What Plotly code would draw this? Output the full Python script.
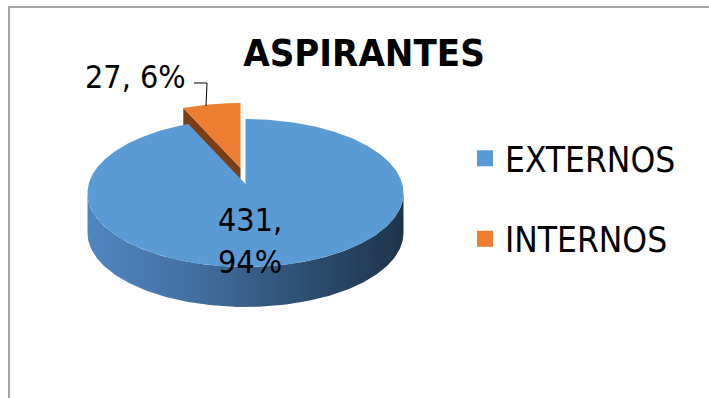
import numpy as np
import plotly.graph_objects as go

# Applicants split by origin
labels = ["EXTERNOS", "INTERNOS"]
values = [431, 27]
title_text = "ASPIRANTES"

W, H = 709, 398
FONT = "DejaVu Sans Condensed, Liberation Sans, sans-serif"

# 3D pie geometry (pixel space)
CX, CY = 245.5, 193.0       # centre of the top ellipse
RX, RY = 158.0, 74.0        # radii of the top ellipse
APEX_DY = -9.0              # perspective: projected centre sits a little behind
DEPTH = 40.0                # thickness of the disc
EXPLODE = (-5.0, -16.0)     # offset of the pulled-out slice

TOP_COLORS = ["#5B9BD5", "#ED7D31"]
SIDE_COLORS = ["#3E6C98", "#7A3E12"]

total = float(sum(values))
fracs = [v / total for v in values]

# slice angles: start at 12 o'clock, clockwise
bounds = []
start = 90.0
for f in fracs:
    end = start - 360.0 * f
    bounds.append((start, end))
    start = end


def rim(t_deg, dx=0.0, dy=0.0):
    t = np.radians(t_deg)
    return CX + dx + RX * np.cos(t), CY + dy - RY * np.sin(t)


def arc(t0, t1, dx=0.0, dy=0.0, n=200):
    ts = np.linspace(t0, t1, n)
    xs, ys = rim(ts, dx, dy)
    return list(xs), list(ys)


fig = go.Figure()

# --- pulled-out slice (INTERNOS) ---
o0, o1 = bounds[1]
odx, ody = EXPLODE
ax_o, ay_o = CX + odx, CY + APEX_DY + ody
rx_o, ry_o = rim(o0, odx, ody)
# radial cut face seen from the front-left
fig.add_trace(go.Scatter(
    x=[ax_o, rx_o, rx_o, ax_o, ax_o],
    y=[ay_o, ry_o, ry_o + DEPTH, ay_o + DEPTH, ay_o],
    mode="lines", fill="toself", fillcolor=SIDE_COLORS[1],
    line=dict(width=0), hoverinfo="skip", showlegend=False))
xs, ys = arc(o0, o1, odx, ody)
fig.add_trace(go.Scatter(
    x=[ax_o] + xs + [ax_o], y=[ay_o] + ys + [ay_o],
    mode="lines", fill="toself", fillcolor=TOP_COLORS[1],
    line=dict(width=0), hoverinfo="skip", showlegend=False))

# --- main slice (EXTERNOS) ---
b0, b1 = bounds[0]
# front wall, lower half of the rim
xs_t, ys_t = arc(180, 360)
xs_b = xs_t[::-1]
ys_b = [y + DEPTH for y in ys_t[::-1]]
fig.add_trace(go.Scatter(
    x=xs_t + xs_b + [xs_t[0]], y=ys_t + ys_b + [ys_t[0]],
    mode="lines", fill="toself",
    fillgradient=dict(type="horizontal", colorscale=[
        [0.0, "rgb(80,133,192)"], [0.3, "rgb(68,114,166)"],
        [0.65, "rgb(48,82,117)"], [1.0, "rgb(30,52,75)"]]),
    line=dict(width=0), hoverinfo="skip", showlegend=False))
ax_b, ay_b = CX, CY + APEX_DY
xs, ys = arc(b0, b1, n=600)
fig.add_trace(go.Scatter(
    x=[ax_b] + xs + [ax_b], y=[ay_b] + ys + [ay_b],
    mode="lines", fill="toself", fillcolor=TOP_COLORS[0],
    line=dict(width=0), hoverinfo="skip", showlegend=False))

# legend entries
for lab, col in zip(labels, TOP_COLORS):
    fig.add_trace(go.Scatter(
        x=[None], y=[None], mode="markers", name=lab, legendgroup=lab,
        marker=dict(symbol="square", size=19, color=col)))

# data labels
pct = [round(100 * f) for f in fracs]
fig.add_annotation(x=250, y=241, xref="x", yref="y",
                   text=f"{values[0]},<br>{pct[0]}%", showarrow=False,
                   font=dict(family=FONT, size=32, color="black"))
fig.add_annotation(x=188, y=77, xref="x", yref="y", xanchor="right",
                   text=f"{values[1]}, {pct[1]}%", showarrow=False,
                   font=dict(family=FONT, size=32, color="black"))
# leader line from the label to the pulled slice
mid_t = (o0 + o1) / 2.0
lx, ly = rim(mid_t + 2, odx, ody)
fig.add_trace(go.Scatter(
    x=[194, 207, lx], y=[83, 83, ly + 1], mode="lines",
    line=dict(color="black", width=1), hoverinfo="skip", showlegend=False))

fig.update_layout(
    width=W, height=H,
    margin=dict(l=0, r=0, t=0, b=0),
    paper_bgcolor="white", plot_bgcolor="white",
    title=dict(text=f"<b>{title_text}</b>", x=364 / W, xanchor="center",
               y=1 - 53 / H, yanchor="middle",
               font=dict(family=FONT, size=38, color="black")),
    xaxis=dict(range=[0, W], visible=False, fixedrange=True),
    yaxis=dict(range=[H, 0], visible=False, fixedrange=True),
    showlegend=True,
    legend=dict(x=465 / W, y=1 - 129 / H, xanchor="left", yanchor="top",
                font=dict(family=FONT, size=35, color="black"),
                tracegroupgap=32, itemsizing="trace",
                bgcolor="rgba(0,0,0,0)"),
    shapes=[dict(type="rect", xref="paper", yref="paper",
                 x0=9 / W, x1=1.2, y0=-0.2, y1=1 - 7 / H,
                 line=dict(color="#A6A6A6", width=2))],
)

fig.write_html("out.html")
